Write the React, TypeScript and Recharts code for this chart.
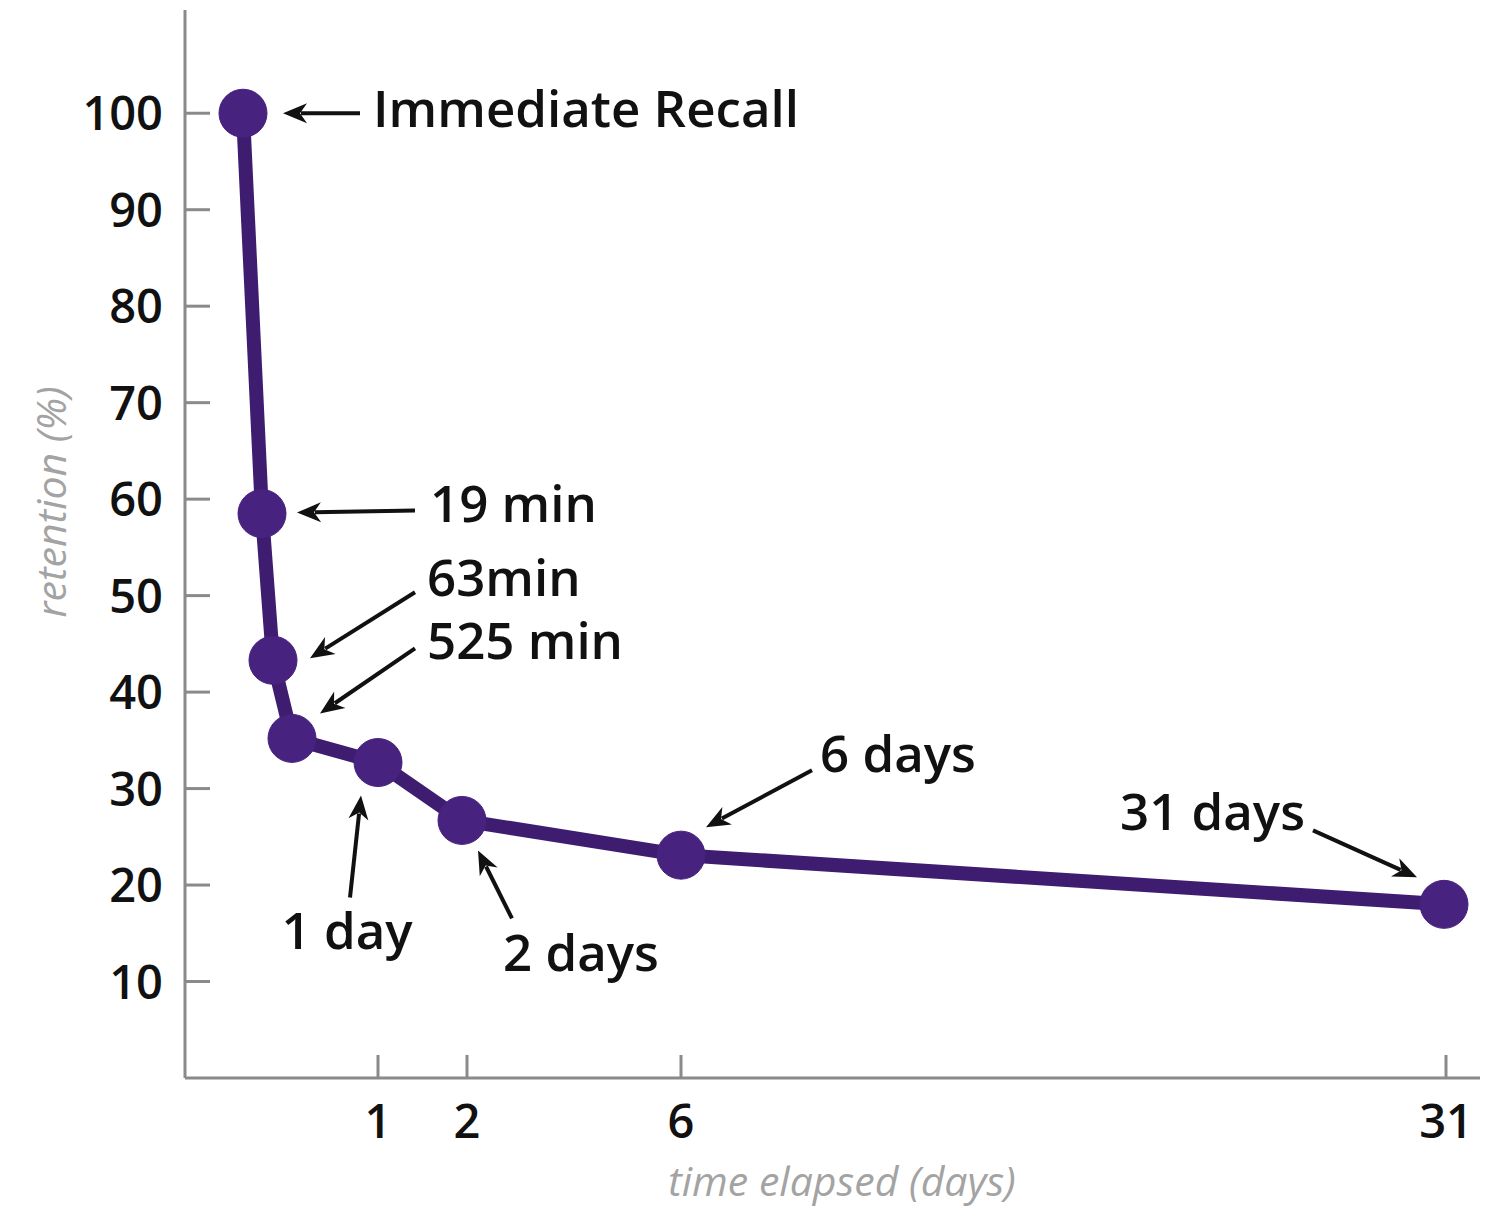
import React from 'react';
import { LineChart, Line, XAxis, YAxis, ReferenceDot } from 'recharts';

// Ebbinghaus forgetting curve. The time axis is drawn stretched, so each
// measurement carries its position along that axis.
const timeLabels = ['0', '19 min', '63min', '525 min', '1 day', '2 days', '6 days', '31 days'];
const axisPosition = [58, 77, 88, 107, 193, 277, 496, 1259];
const retention = [100, 58.5, 43.3, 35.2, 32.7, 26.7, 23.1, 18.0];

const retentionTicks = [10, 20, 30, 40, 50, 60, 70, 80, 90, 100];
const dayTickPosition = [193, 282, 496, 1261];
const dayTickLabels = ['1', '2', '6', '31'];

const annotationText = ['Immediate Recall', '19 min', '63min', '525 min', '1 day', '2 days', '6 days', '31 days'];

// arrow tail / head and text anchor, as pixel offsets from each point
const callouts = [
  { tail: [117, 0], head: [40, 0], text: [130, 14], anchor: 'start' },
  { tail: [153, -3], head: [35, -1], text: [168, 8], anchor: 'start' },
  { tail: [142, -68], head: [37, -2], text: [154, -64], anchor: 'start' },
  { tail: [123, -90], head: [28, -25], text: [135, -79], anchor: 'start' },
  { tail: [-28, 135], head: [-17, 33], text: [-31, 186], anchor: 'middle' },
  { tail: [50, 98], head: [16, 30], text: [41, 151], anchor: 'start' },
  { tail: [131, -85], head: [25, -28], text: [139, -83], anchor: 'start' },
  { tail: [-131, -74], head: [-27, -27], text: [-139, -74], anchor: 'end' },
];

const data = timeLabels.map((label, i) => ({
  label,
  pos: axisPosition[i],
  retention: retention[i],
}));

const FONT = '"Open Sans", "Noto Sans", sans-serif';
const AXIS = '#8a8a8a';
const LINE = '#3e1c70';
const DOT = '#47227e';

const YTick = (props: any) => {
  const { x, y, payload } = props;
  return (
    <g>
      <line x1={x} x2={x + 25} y1={y} y2={y} stroke={AXIS} strokeWidth={3} />
      <text x={x - 22} y={y + 17} textAnchor="end" fontFamily={FONT} fontWeight={600} fontSize={47} fill="#111">
        {payload.value}
      </text>
    </g>
  );
};

const XTick = (props: any) => {
  const { x, y, payload, index } = props;
  return (
    <g>
      <line x1={x} x2={x} y1={y} y2={y - 23} stroke={AXIS} strokeWidth={3} />
      <text x={x} y={y + 60} textAnchor="middle" fontFamily={FONT} fontWeight={600} fontSize={47} fill="#111">
        {dayTickLabels[index] ?? payload.value}
      </text>
    </g>
  );
};

const Callout = (i: number) => (props: any) => {
  const { cx, cy } = props;
  const c = callouts[i];
  const x1 = cx + c.tail[0];
  const y1 = cy + c.tail[1];
  const x2 = cx + c.head[0];
  const y2 = cy + c.head[1];
  const ang = Math.atan2(y2 - y1, x2 - x1);
  const len = 24;
  const half = 10;
  const bx = x2 - len * Math.cos(ang);
  const by = y2 - len * Math.sin(ang);
  const p1 = `${bx + half * Math.sin(ang)},${by - half * Math.cos(ang)}`;
  const p2 = `${bx - half * Math.sin(ang)},${by + half * Math.cos(ang)}`;
  return (
    <g>
      <line x1={x1} y1={y1} x2={bx + 6 * Math.cos(ang)} y2={by + 6 * Math.sin(ang)} stroke="#111" strokeWidth={4} />
      <polygon points={`${x2},${y2} ${p1} ${bx + 7 * Math.cos(ang)},${by + 7 * Math.sin(ang)} ${p2}`} fill="#111" />
      <text
        x={cx + c.text[0]}
        y={cy + c.text[1]}
        textAnchor={c.anchor as any}
        fontFamily={FONT}
        fontWeight={600}
        fontSize={51}
        fill="#111"
      >
        {annotationText[i]}
      </text>
    </g>
  );
};

const App: React.FC = () => {
  return (
    <div style={{ width: 1512, height: 1210, background: '#fff', position: 'relative' }}>
      <style>{`body { margin: 0; }`}</style>
      <LineChart width={1512} height={1210} data={data} margin={{ top: 10, right: 32, bottom: 72, left: 0 }}>
        <XAxis
          dataKey="pos"
          type="number"
          domain={[0, 1295]}
          ticks={dayTickPosition}
          allowDataOverflow
          height={60}
          tickSize={0}
          tickMargin={0}
          tickLine={false}
          axisLine={{ stroke: AXIS, strokeWidth: 3 }}
          tick={<XTick />}
          label={{
            content: (p: any) => (
              <text
                x={p.viewBox.x + 657}
                y={p.viewBox.y + 118}
                textAnchor="middle"
                fontFamily={FONT}
                fontStyle="italic"
                fontSize={41}
                fill="#a3a3a3"
              >
                time elapsed (days)
              </text>
            ),
          }}
        />
        <YAxis
          type="number"
          domain={[0, 110.7]}
          ticks={retentionTicks}
          allowDataOverflow
          width={185}
          tickSize={0}
          tickMargin={0}
          tickLine={false}
          axisLine={{ stroke: AXIS, strokeWidth: 3 }}
          tick={<YTick />}
          label={{
            content: (p: any) => (
              <text
                x={p.viewBox.x + 66}
                y={p.viewBox.y + 492}
                textAnchor="middle"
                transform={`rotate(-90, ${p.viewBox.x + 66}, ${p.viewBox.y + 492})`}
                fontFamily={FONT}
                fontStyle="italic"
                fontSize={41}
                fill="#a3a3a3"
              >
                retention (%)
              </text>
            ),
          }}
        />
        <Line
          type="linear"
          dataKey="retention"
          stroke={LINE}
          strokeWidth={14}
          strokeLinejoin="round"
          dot={{ r: 24, fill: DOT, stroke: DOT, strokeWidth: 1 }}
          activeDot={false}
          isAnimationActive={false}
        />
        {data.map((d, i) => (
          <ReferenceDot key={d.label} x={d.pos} y={d.retention} r={0} shape={Callout(i)} />
        ))}
      </LineChart>
    </div>
  );
};

export default App;
